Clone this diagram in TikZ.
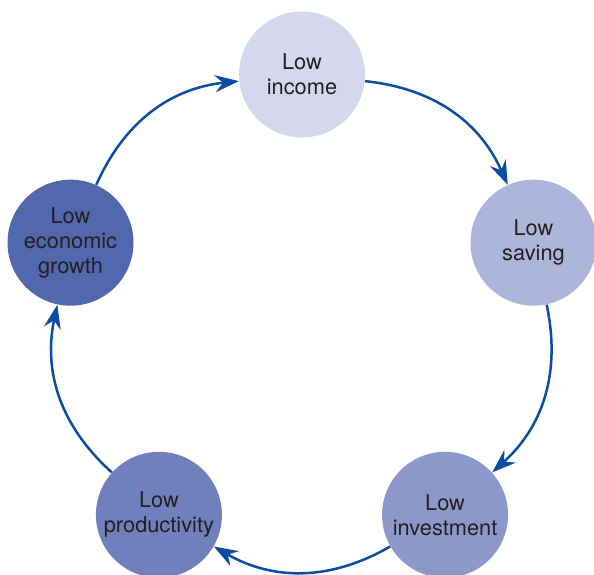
\documentclass[tikz,border=0pt]{standalone}
\usepackage{fontspec}
\setsansfont{TeX Gyre Heros}
\usepackage{xcolor}
\usepackage{tikz}
\usetikzlibrary{arrows.meta, positioning}

\definecolor{incomefill}{HTML}{D5D8EC}
\definecolor{savingfill}{HTML}{AEB5DB}
\definecolor{investfill}{HTML}{8C98CA}
\definecolor{prodfill}{HTML}{6F80BC}
\definecolor{growthfill}{HTML}{5167AE}
\definecolor{arrowblue}{HTML}{0B4DA2}
\definecolor{textgrey}{HTML}{231F20}

\begin{document}
\begin{tikzpicture}[x=0.5pt,y=0.5pt,
                    main node/.style={circle,minimum size=63pt,inner sep=0pt,align=center,
                      text=textgrey,font=\sffamily\fontsize{10.9}{12.5}\selectfont},
                    loop edge/.style={-{Stealth[length=12pt,width=8.5pt,inset=4pt]},
                      draw=arrowblue,line width=1.25pt,bend left=30}]

 \useasboundingbox (-302,-256.1) rectangle (292,317.9);

 \node[main node,fill=incomefill] (income) at (90:243.4) {Low\\income};
 \node[main node,fill=savingfill] (saving) at (18:243.4) {Low\\saving};
 \node[main node,fill=investfill] (invest) at (-54:243.4) {Low\\investment};
 \node[main node,fill=prodfill] (prod) at (-126:243.4) {Low\\productivity};
 \node[main node,fill=growthfill] (growth) at (162:243.4) {Low\\economic\\growth};

 \path
 (income) edge[loop edge] (saving)
 (saving) edge[loop edge] (invest)
 (invest) edge[loop edge] (prod)
 (prod)   edge[loop edge] (growth)
 (growth) edge[loop edge] (income);

\end{tikzpicture}
\end{document}
